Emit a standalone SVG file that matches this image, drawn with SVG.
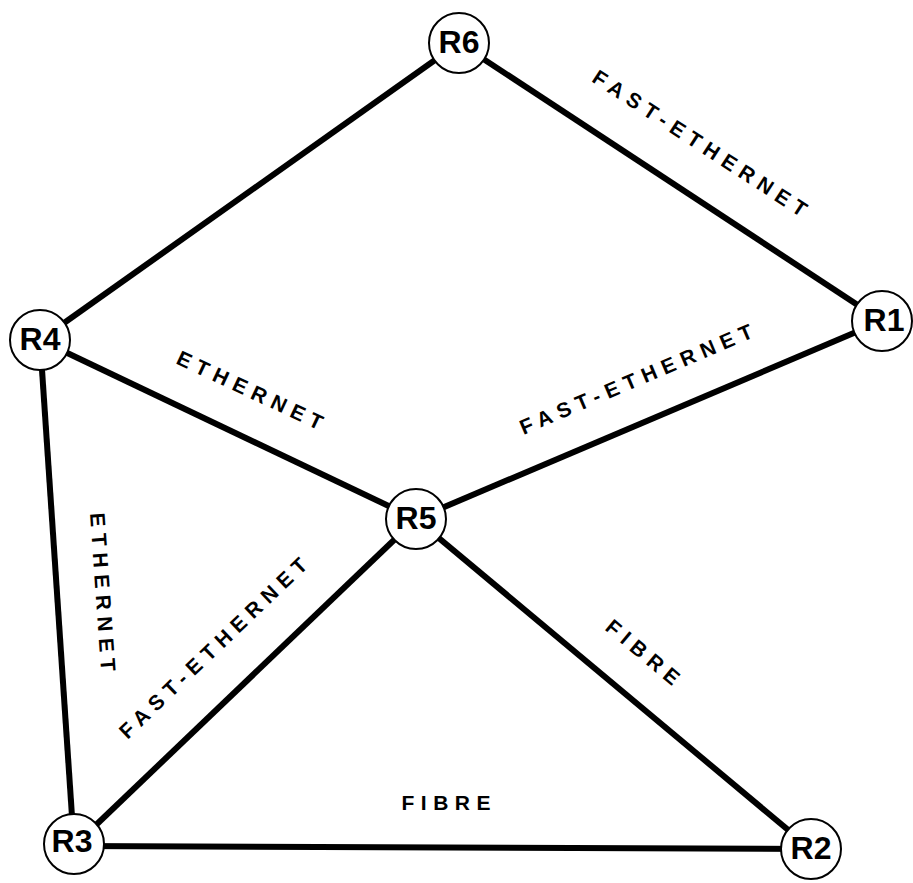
<svg xmlns="http://www.w3.org/2000/svg" width="913" height="883" viewBox="0 0 913 883">
<style>
.edge{stroke:#000;stroke-width:6;fill:none}
.node circle{fill:#fff;stroke:#000;stroke-width:2}
.node text{font-family:"Liberation Sans",Arial,sans-serif;font-weight:bold;font-size:32px;text-anchor:middle;fill:#000}
.lbl{font-family:"Liberation Sans",Arial,sans-serif;font-weight:bold;font-size:21px;letter-spacing:6.5px;text-anchor:middle;fill:#000}
</style>
<rect width="913" height="883" fill="#fff"/>
<g id="connectors">
<line class="edge" x1="459" y1="43" x2="40" y2="340"/>
<line class="edge" x1="459" y1="43" x2="882" y2="321"/>
<line class="edge" x1="40" y1="340" x2="416" y2="519"/>
<line class="edge" x1="40" y1="340" x2="74" y2="846"/>
<line class="edge" x1="882" y1="321" x2="416" y2="519"/>
<line class="edge" x1="416" y1="519" x2="74" y2="846"/>
<line class="edge" x1="416" y1="519" x2="811" y2="849"/>
<line class="edge" x1="74" y1="846" x2="811" y2="849"/>
</g>
<g id="labels">
<text class="lbl" transform="translate(700,143) rotate(33)" x="3.25" y="7.5">FAST-ETHERNET</text>
<text class="lbl" transform="translate(636,379) rotate(-23)" x="3.25" y="7.5">FAST-ETHERNET</text>
<text class="lbl" transform="translate(250,390) rotate(25)" x="3.25" y="7.5">ETHERNET</text>
<text class="lbl" transform="translate(103,592) rotate(86)" x="3.25" y="7.5">ETHERNET</text>
<text class="lbl" transform="translate(213,648) rotate(-43.7)" x="3.25" y="7.5">FAST-ETHERNET</text>
<text class="lbl" transform="translate(643,652) rotate(40)" x="3.25" y="7.5">FIBRE</text>
<text class="lbl" transform="translate(446,802)" x="3.25" y="7.5">FIBRE</text>
</g>
<g id="R6" class="node"><circle cx="459" cy="43" r="30"/><text x="459" y="53">R6</text></g>
<g id="R1" class="node"><circle cx="882" cy="321" r="30"/><text x="884" y="331">R1</text></g>
<g id="R4" class="node"><circle cx="40" cy="340" r="30"/><text x="40" y="350">R4</text></g>
<g id="R5" class="node"><circle cx="416" cy="519" r="30"/><text x="416" y="529">R5</text></g>
<g id="R3" class="node"><circle cx="74" cy="844" r="30"/><text x="72" y="852">R3</text></g>
<g id="R2" class="node"><circle cx="811" cy="849" r="30"/><text x="811" y="859">R2</text></g>
</svg>
